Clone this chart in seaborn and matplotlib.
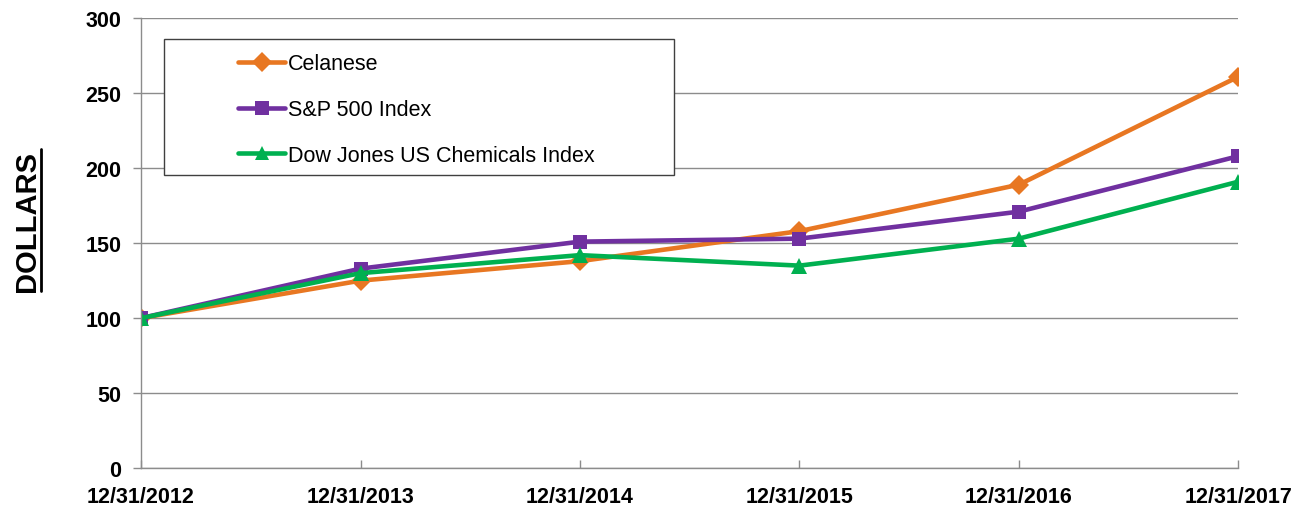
import matplotlib
matplotlib.use("Agg")
import matplotlib.pyplot as plt
from matplotlib.patches import Rectangle
from matplotlib.lines import Line2D
import pandas as pd
import seaborn as sns

dates = ["12/31/2012", "12/31/2013", "12/31/2014", "12/31/2015", "12/31/2016", "12/31/2017"]
celanese = [100, 125, 138, 158, 189, 261]
sp500 = [100, 133, 151, 153, 171, 208]
dow_chem = [100, 130, 142, 135, 153, 191]

series_names = ["Celanese", "S&P 500 Index", "Dow Jones US Chemicals Index"]
colors = ["#E87722", "#7030A0", "#00B050"]
markers = ["D", "s", "^"]

# long-form table for seaborn
rows = []
for name, vals in zip(series_names, [celanese, sp500, dow_chem]):
    for i, v in enumerate(vals):
        rows.append({"pos": i, "date": dates[i], "value": v, "series": name})
df = pd.DataFrame(rows)

sns.set_style("white")
plt.rcParams["font.family"] = ["Liberation Sans", "DejaVu Sans"]
plt.rcParams["text.color"] = "black"

fig = plt.figure(figsize=(12.94, 5.06), dpi=100)
ax = fig.add_axes([0.109, 0.073, 0.848, 0.889])

sns.lineplot(data=df, x="pos", y="value", hue="series", style="series",
             hue_order=series_names, style_order=series_names,
             palette=dict(zip(series_names, colors)),
             markers=dict(zip(series_names, markers)), dashes=False,
             linewidth=3.3, markersize=10, markeredgewidth=0, ax=ax)

# marker sizes differ a bit per series
for line, ms in zip(ax.get_lines()[:3], [10, 10.5, 11.5]):
    line.set_markersize(ms)

ax.set_xlim(0, 5)
ax.set_ylim(0, 300)
ax.set_yticks(range(0, 301, 50))
ax.set_xticks(range(len(dates)))
ax.set_xticklabels(dates)
ax.yaxis.grid(True, color="#8c8c8c", linewidth=1)
ax.set_axisbelow(True)
for s in ["top", "right"]:
    ax.spines[s].set_visible(False)
for s in ["left", "bottom"]:
    ax.spines[s].set_color("#8c8c8c")
    ax.spines[s].set_linewidth(1)
ax.tick_params(axis="both", which="both", length=6, width=1, color="#8c8c8c",
               labelsize=15.5, labelcolor="black")
ax.tick_params(axis="y", direction="out", left=True, pad=8)
ax.tick_params(axis="x", direction="in", bottom=True, pad=13)
for lbl in ax.get_xticklabels() + ax.get_yticklabels():
    lbl.set_fontweight("bold")

ax.set_xlabel("")
ax.set_ylabel("")
fig.text(0.0205, 0.563, "DOLLARS", rotation=90, fontsize=21, fontweight="bold",
         ha="center", va="center", color="black")
# underline for the rotated label
fig.add_artist(Line2D([0.0318, 0.0318], [0.423, 0.704], color="black", linewidth=2))

# legend with a wide frame box
handles, labels = ax.get_legend_handles_labels()
ax.add_patch(Rectangle((0.021, 0.651), 0.465, 0.302, transform=ax.transAxes,
                       facecolor="white", edgecolor="#404040", linewidth=1, zorder=5))
leg = ax.legend(handles, labels, loc="upper left", bbox_to_anchor=(0.0806, 0.941),
                frameon=False, fontsize=15.5, handlelength=2.2, handletextpad=0.1,
                labelspacing=1.15, borderaxespad=0)
for t in leg.get_texts():
    t.set_color("black")
leg.set_zorder(6)

fig.savefig("out.png", dpi=100)
